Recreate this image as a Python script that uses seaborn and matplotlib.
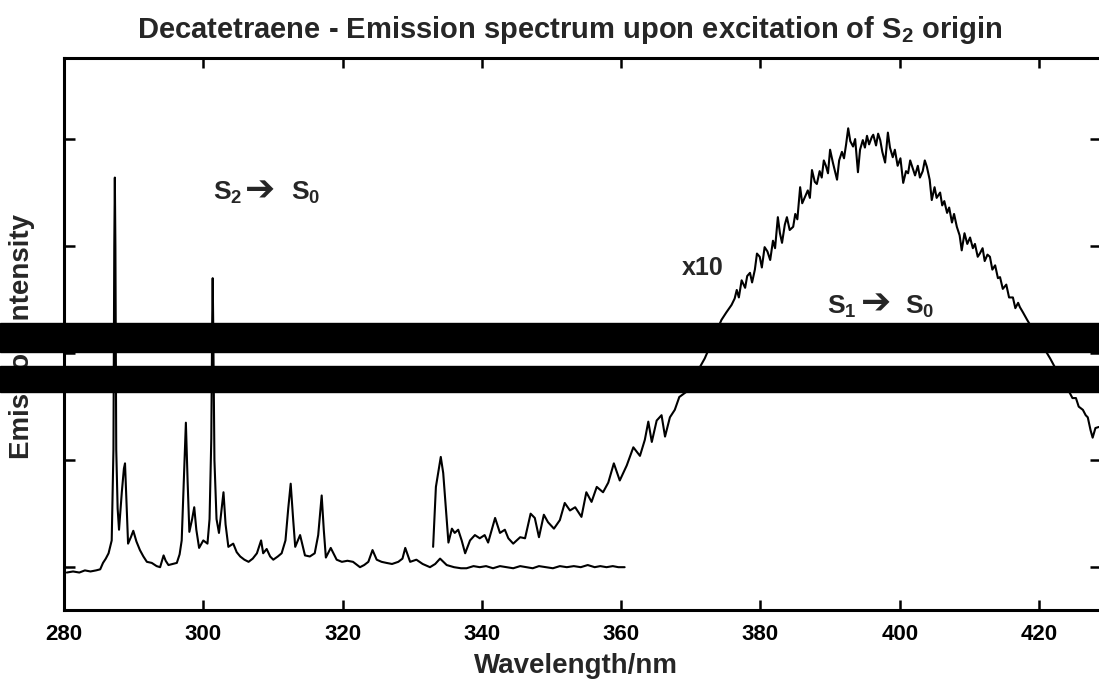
"""
Decatetraene - emission spectrum (S2 -> S0 trace and the x10 S1 -> S0 trace)
"""

import matplotlib
matplotlib.use('Agg')
import matplotlib.pyplot as plt
from matplotlib.patches import Rectangle
import pandas as pd
import seaborn as sns

# S2 -> S0 emission, wavelength (nm) and intensity (arb. units)
s2_nm = [280.4, 281.3, 282.2, 283.0, 283.8, 284.6, 285.2, 285.6, 286.0, 286.4, 286.85,
         287.1, 287.22, 287.3, 287.38, 287.5, 287.7, 287.9, 288.3, 288.6, 288.76, 288.95,
         289.2, 289.6, 289.95, 290.4, 290.9, 291.4, 291.9, 292.6, 293.3, 293.8, 294.3,
         294.6, 295.0, 295.6, 296.2, 296.6, 296.9, 297.2, 297.5, 297.75, 298.0, 298.4,
         298.7, 299.0, 299.4, 300.0, 300.6, 300.9, 301.15, 301.28, 301.35, 301.42, 301.6,
         301.9, 302.25, 302.6, 302.9, 303.2, 303.6, 304.3, 304.8, 305.3, 305.9, 306.5,
         307.1, 307.7, 308.3, 308.6, 309.1, 309.6, 310.05, 310.7, 311.25, 311.8, 312.2,
         312.55, 312.9, 313.2, 313.9, 314.6, 315.3, 316.0, 316.5, 317.0, 317.3, 317.6,
         318.3, 319.15, 319.9, 320.7, 321.5, 322.5, 323.1, 323.7, 324.3, 324.9, 325.6,
         326.3, 327.1, 328.0, 328.6, 329.0, 329.7, 330.6, 331.5, 332.55, 333.3, 334.0,
         334.95, 336.0, 337.0, 337.8, 338.8, 339.7, 340.6, 341.6, 342.6, 343.6, 344.5,
         345.5, 346.4, 347.3, 348.2, 349.2, 350.2, 351.2, 352.2, 353.2, 354.2, 355.2,
         356.2, 357.0, 357.9, 358.8, 359.6, 360.5]
s2_int = [-0.05, -0.04, -0.05, -0.03, -0.04, -0.03, -0.02, 0.04, 0.08, 0.13, 0.25,
          1.10, 3.00, 3.64, 3.00, 1.10, 0.55, 0.35, 0.70, 0.92, 0.97, 0.65,
          0.22, 0.28, 0.34, 0.24, 0.16, 0.10, 0.05, 0.04, 0.01, 0.00, 0.11,
          0.06, 0.02, 0.03, 0.04, 0.12, 0.25, 0.80, 1.35, 0.80, 0.33, 0.45,
          0.56, 0.35, 0.18, 0.25, 0.22, 0.45, 1.20, 2.30, 2.70, 2.30, 1.00,
          0.45, 0.32, 0.52, 0.70, 0.40, 0.19, 0.22, 0.14, 0.10, 0.07, 0.05,
          0.08, 0.13, 0.25, 0.13, 0.17, 0.10, 0.07, 0.10, 0.13, 0.25, 0.55,
          0.78, 0.45, 0.19, 0.30, 0.11, 0.10, 0.13, 0.30, 0.67, 0.35, 0.09,
          0.18, 0.07, 0.05, 0.06, 0.05, 0.00, 0.02, 0.05, 0.16, 0.07, 0.05,
          0.04, 0.03, 0.05, 0.08, 0.18, 0.05, 0.07, 0.03, 0.00, 0.03, 0.08,
          0.02, 0.00, -0.01, -0.01, 0.01, 0.00, 0.01, -0.01, 0.01, 0.00, -0.01,
          0.01, 0.00, -0.01, 0.01, 0.00, -0.01, 0.01, 0.00, 0.01, 0.00, 0.02,
          0.00, 0.01, 0.00, 0.01, 0.00, 0.00]

# S1 -> S0 emission scaled x10
s1_nm = [333.0, 333.4, 334.1, 334.45, 335.2, 335.7, 336.1, 336.6, 337.1, 337.6, 338.3,
         339.0, 339.7, 340.4, 340.9, 341.9, 342.6, 343.3, 343.8, 344.5, 345.5, 346.2,
         347.0, 347.6, 348.2, 348.9, 349.5, 350.35, 351.2, 351.9, 352.65, 353.4, 354.3,
         355.0, 355.75, 356.5, 357.4, 358.15, 358.95, 359.8, 360.8, 361.75, 362.7, 363.4,
         363.9, 364.4, 365.1, 365.8, 366.3, 367.0, 367.7, 368.35, 369.4, 370.1, 372.0,
         374.4, 375.1, 375.85,
         376.3, 376.6, 376.9, 377.3, 377.8, 378.1, 378.5, 378.8, 379.2, 379.5, 379.9,
         380.2, 380.6, 381.0, 381.4, 381.8, 382.1, 382.5, 382.8, 383.1, 383.5, 383.8,
         384.2, 384.7, 385.0, 385.3, 385.7, 386.0, 386.4, 386.8, 387.1, 387.4, 387.8,
         388.1, 388.5, 388.8, 389.1, 389.4, 389.7, 390.0, 390.4, 391.0, 391.3, 391.7,
         392.0, 392.3, 392.6, 392.9, 393.3, 393.6, 394.0, 394.3, 394.7, 395.0, 395.3,
         395.6, 396.0, 396.2, 396.6, 396.9, 397.2, 397.5, 397.9, 398.3, 398.6, 399.0,
         399.3, 399.7, 400.1, 400.5, 400.9, 401.2, 401.5, 401.9, 402.2, 402.6, 402.9,
         403.3, 403.6, 403.9, 404.3, 404.6, 405.0, 405.3, 405.8, 406.1, 406.4, 406.8,
         407.1, 407.5, 407.8, 408.2, 408.6, 408.9, 409.3, 409.7, 410.1, 410.5, 410.8,
         411.2, 411.5, 411.9, 412.2, 412.6, 412.95, 413.3, 413.7, 414.1, 414.4, 414.8,
         415.3, 415.7, 416.25, 416.6, 417.0, 417.25, 417.7, 418.3, 421.6, 423.5, 424.0,
         424.4, 424.8, 425.3, 425.7, 426.3, 426.7, 427.0, 427.4, 427.7, 428.1, 428.6]
s1_int = [0.19, 0.75, 1.03, 0.88, 0.23, 0.36, 0.32, 0.35, 0.25, 0.13, 0.25,
          0.30, 0.27, 0.30, 0.23, 0.46, 0.32, 0.35, 0.27, 0.22, 0.28, 0.27,
          0.50, 0.46, 0.28, 0.49, 0.42, 0.36, 0.44, 0.60, 0.53, 0.56, 0.47,
          0.70, 0.61, 0.75, 0.70, 0.79, 0.97, 0.81, 0.95, 1.12, 1.04, 1.19,
          1.36, 1.17, 1.37, 1.42, 1.22, 1.40, 1.47, 1.59, 1.64, 1.73, 1.95,
          2.31, 2.38, 2.45,
          2.51, 2.59, 2.52, 2.68, 2.61, 2.72, 2.75, 2.66, 2.78, 2.93, 2.90,
          2.80, 2.99, 2.95, 2.87, 3.05, 2.98, 3.27, 3.12, 3.03, 3.20, 3.27,
          3.15, 3.18, 3.30, 3.25, 3.55, 3.40, 3.46, 3.52, 3.45, 3.71, 3.60,
          3.58, 3.70, 3.64, 3.80, 3.75, 3.68, 3.90, 3.78, 3.62, 3.80, 3.88,
          3.82, 3.95, 4.10, 3.98, 3.93, 4.00, 3.69, 3.90, 3.99, 3.92, 4.03,
          3.95, 4.02, 4.04, 3.94, 4.05, 3.99, 3.88, 3.78, 4.06, 3.92, 3.83,
          3.90, 3.75, 3.82, 3.59, 3.70, 3.68, 3.80, 3.72, 3.66, 3.75, 3.64,
          3.70, 3.80, 3.74, 3.62, 3.43, 3.55, 3.45, 3.50, 3.38, 3.42, 3.31,
          3.36, 3.22, 3.30, 3.18, 3.10, 2.96, 3.12, 3.02, 3.08, 2.98, 3.02,
          2.90, 2.93, 2.98, 2.86, 2.92, 2.90, 2.78, 2.82, 2.70, 2.71, 2.60,
          2.64, 2.52, 2.52, 2.42, 2.47, 2.43, 2.38, 2.31, 1.95, 1.72, 1.66,
          1.63, 1.58, 1.58, 1.50, 1.47, 1.42, 1.40, 1.28, 1.21, 1.30, 1.31]

x_ticks = [280, 300, 320, 340, 360, 380, 400, 420]
y_ticks = [0, 1, 2, 3, 4]

sns.set_style("ticks")
plt.rcParams['font.family'] = ['Liberation Sans', 'DejaVu Sans']
plt.rcParams['font.weight'] = 'bold'
plt.rcParams['mathtext.fontset'] = 'custom'
plt.rcParams['mathtext.rm'] = 'Liberation Sans:bold'
plt.rcParams['mathtext.it'] = 'Liberation Sans:bold'
plt.rcParams['mathtext.bf'] = 'Liberation Sans:bold'

s2 = pd.DataFrame({'nm': s2_nm, 'intensity': s2_int})
s1 = pd.DataFrame({'nm': s1_nm, 'intensity': s1_int})

fig = plt.figure(figsize=(10.99, 6.90), dpi=100)
ax = fig.add_axes([64 / 1099, 80 / 690, 1037 / 1099, 552 / 690])

sns.lineplot(data=s2, x='nm', y='intensity', ax=ax, color='black', linewidth=1.5,
             estimator=None)
sns.lineplot(data=s1, x='nm', y='intensity', ax=ax, color='black', linewidth=1.5,
             estimator=None)

ax.set_xlim(280, 428.9)
ax.set_ylim(-0.40, 4.757)
ax.set_xticks(x_ticks)
ax.set_yticks(y_ticks)
ax.set_yticklabels([])
ax.tick_params(axis='both', direction='in', width=1.8, colors='black')
ax.tick_params(axis='x', length=7, top=True, labelsize=16, pad=10)
ax.tick_params(axis='y', length=8, right=True)
for lab in ax.get_xticklabels():
    lab.set_fontweight('bold')
for side in ['left', 'bottom', 'top', 'right']:
    ax.spines[side].set_linewidth(2.2)
    ax.spines[side].set_color('black')

ax.set_xlabel('Wavelength/nm', fontsize=20, fontweight='bold', va='center')
ax.xaxis.set_label_coords(0.4937, -0.1014)
ax.set_ylabel('Emission Intensity', fontsize=20, fontweight='bold', va='center')
ax.yaxis.set_label_coords(-0.0405, 0.4946)

fig.suptitle('Decatetraene - Emission spectrum upon excitation of S$_2$ origin',
             x=570 / 1099, y=1 - 30 / 690, va='center', fontsize=21, fontweight='bold')

# transition labels: state symbols in Liberation Sans, heavy arrow from DejaVu Sans
ax.text(301.4, 3.43, 'S$_2$', fontsize=19, fontweight='bold', va='baseline')
ax.text(306.0, 3.52, '➔', fontsize=26, family='DejaVu Sans', va='center')
ax.text(312.6, 3.43, 'S$_0$', fontsize=19, fontweight='bold', va='baseline')
ax.text(368.7, 2.73, 'x10', fontsize=18, fontweight='bold', va='baseline')
ax.text(389.5, 2.37, 'S$_1$', fontsize=19, fontweight='bold', va='baseline')
ax.text(394.5, 2.46, '➔', fontsize=26, family='DejaVu Sans', va='center')
ax.text(400.75, 2.37, 'S$_0$', fontsize=19, fontweight='bold', va='baseline')

# the two black bands that run across the scanned figure
fig.add_artist(Rectangle((0, 1 - 352 / 690), 1, 29 / 690, transform=fig.transFigure,
                         color='black', zorder=10))
fig.add_artist(Rectangle((0, 1 - 392 / 690), 1, 26 / 690, transform=fig.transFigure,
                         color='black', zorder=10))

fig.savefig('out.png', dpi=100)
